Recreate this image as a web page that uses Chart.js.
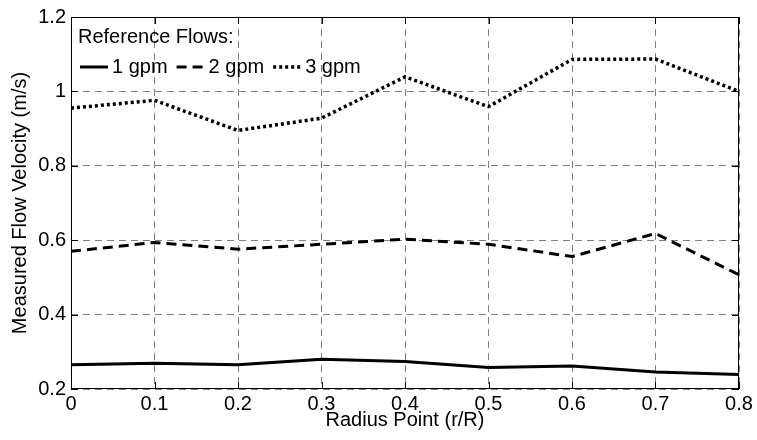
<!DOCTYPE html>
<html>
<head>
<meta charset="utf-8">
<script src="https://cdn.jsdelivr.net/npm/chart.js@4"></script>
<style>
  html, body { margin: 0; padding: 0; background: #fff; }
  #wrap { width: 757px; height: 440px; }
</style>
</head>
<body>
<div id="wrap"><canvas id="flowChart"></canvas></div>
<script>
// radius points (r/R)
const radius = [0, 0.1, 0.2, 0.3, 0.4, 0.5, 0.6, 0.7, 0.8]
// measured velocity (m/s) for each reference flow
const flow1gpm = [0.265, 0.269, 0.265, 0.280, 0.274, 0.258, 0.262, 0.246, 0.239]
const flow2gpm = [0.570, 0.594, 0.576, 0.589, 0.603, 0.589, 0.556, 0.618, 0.507]
const flow3gpm = [0.955, 0.976, 0.895, 0.928, 1.039, 0.959, 1.086, 1.087, 1.000]
const seriesNames = ['1 gpm', '2 gpm', '3 gpm']
const legendTitle = 'Reference Flows:'

const FONT = "'Liberation Sans', Arial, sans-serif"

const toPoints = (vals) => radius.map((r, i) => ({ x: r, y: vals[i] }))

// frame, inside tick marks and the legend (MATLAB look)
const framePlugin = {
    id: 'frame',
    afterDatasetsDraw(chart) {
        const { ctx, chartArea: a, scales } = chart
        ctx.save()
        ctx.strokeStyle = '#000'
        ctx.lineWidth = 1
        ctx.setLineDash([])
        ctx.strokeRect(a.left + 0.5, a.top + 0.5, a.right - a.left - 1, a.bottom - a.top - 1)

        const len = 7
        ctx.beginPath()
        scales.x.ticks.forEach((t, i) => {
            const px = Math.round(scales.x.getPixelForTick(i)) + 0.5
            ctx.moveTo(px, a.bottom); ctx.lineTo(px, a.bottom - len)
            ctx.moveTo(px, a.top); ctx.lineTo(px, a.top + len)
        })
        scales.y.ticks.forEach((t, i) => {
            const py = Math.round(scales.y.getPixelForTick(i)) + 0.5
            ctx.moveTo(a.left, py); ctx.lineTo(a.left + len, py)
            ctx.moveTo(a.right, py); ctx.lineTo(a.right - len, py)
        })
        ctx.stroke()

        // legend
        ctx.fillStyle = '#000'
        ctx.font = '20px ' + FONT
        ctx.textBaseline = 'middle'
        ctx.textAlign = 'left'
        ctx.fillText(legendTitle, a.left + 7, a.top + 20)

        let x = a.left + 9
        const y = a.top + 50
        chart.data.datasets.forEach((ds) => {
            ctx.save()
            ctx.strokeStyle = ds.borderColor
            ctx.lineWidth = ds.borderWidth
            ctx.setLineDash(ds.borderDash || [])
            ctx.beginPath()
            ctx.moveTo(x, y); ctx.lineTo(x + 28, y)
            ctx.stroke()
            ctx.restore()
            ctx.fillText(ds.label, x + 32, y)
            x += 32 + ctx.measureText(ds.label).width + 9
        })
        ctx.restore()
    }
}

const gridStyle = {
    color: 'rgba(0,0,0,0.5)',
    lineWidth: 1,
    drawTicks: false
}

new Chart(document.getElementById('flowChart'), {
    type: 'line',
    data: {
        datasets: [
            {
                label: seriesNames[0],
                data: toPoints(flow1gpm),
                borderColor: '#000',
                borderWidth: 3,
                pointRadius: 0,
                fill: false
            },
            {
                label: seriesNames[1],
                data: toPoints(flow2gpm),
                borderColor: '#000',
                borderWidth: 3,
                borderDash: [10, 6],
                pointRadius: 0,
                fill: false
            },
            {
                label: seriesNames[2],
                data: toPoints(flow3gpm),
                borderColor: '#000',
                borderWidth: 3.5,
                borderDash: [3, 3],
                pointRadius: 0,
                fill: false
            }
        ]
    },
    options: {
        responsive: true,
        maintainAspectRatio: false,
        animation: false,
        layout: { padding: { top: 15, right: 18, left: 0, bottom: 0 } },
        plugins: {
            legend: { display: false },
            tooltip: { enabled: false }
        },
        scales: {
            x: {
                type: 'linear',
                min: 0,
                max: 0.8,
                grid: gridStyle,
                border: { display: false, dash: [7, 5] },
                ticks: {
                    stepSize: 0.1,
                    color: '#000',
                    padding: 3,
                    font: { family: FONT, size: 20 },
                    callback: (v) => String(+v.toFixed(1))
                },
                title: {
                    display: true,
                    text: 'Radius Point (r/R)',
                    color: '#000',
                    padding: { top: 0, bottom: 8 },
                    font: { family: FONT, size: 20 }
                },
                afterFit: (s) => { s.height = 51 }
            },
            y: {
                min: 0.2,
                max: 1.2,
                grid: gridStyle,
                border: { display: false, dash: [7, 5] },
                ticks: {
                    stepSize: 0.2,
                    color: '#000',
                    padding: 5,
                    font: { family: FONT, size: 20 },
                    callback: (v) => String(+v.toFixed(1))
                },
                title: {
                    display: true,
                    text: 'Measured Flow Velocity (m/s)',
                    color: '#000',
                    padding: { top: 8, bottom: 0 },
                    font: { family: FONT, size: 20 }
                },
                afterFit: (s) => { s.width = 71 }
            }
        }
    },
    plugins: [framePlugin]
})
</script>
</body>
</html>
